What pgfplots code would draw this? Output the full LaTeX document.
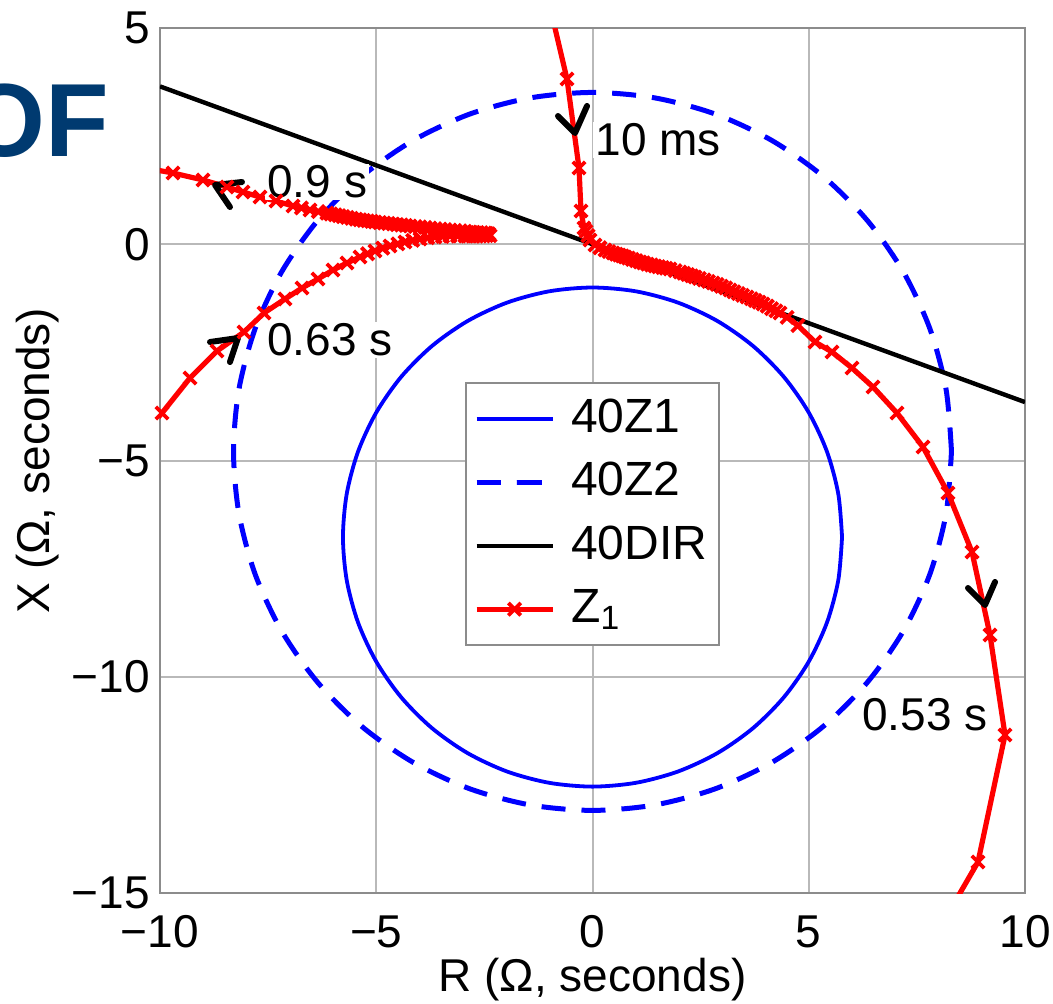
\documentclass[border=0pt]{standalone}
\usepackage{fontspec}
\setmainfont{Liberation Sans}
\usepackage{pgfplots}
\pgfplotsset{compat=1.18}
\definecolor{ofblue}{RGB}{0,58,112}
\definecolor{gridgray}{RGB}{185,185,185}
\definecolor{framegray}{RGB}{140,140,140}
\begin{document}
\fontsize{23}{27}\selectfont
\begin{tikzpicture}
\useasboundingbox (-80pt,-55pt) rectangle (446.5pt,446.5pt);
\node[anchor=base west, inner sep=0pt, font=\fontsize{52}{60}\selectfont\bfseries, text=ofblue] at (-98pt,368pt) {OF};
\begin{axis}[
  scale only axis, width=432.5pt, height=432.5pt,
  xmin=-10, xmax=10, ymin=-15, ymax=5,
  xtick={-10,-5,0,5,10}, xticklabels={−10,−5,0,5,10},
  ytick={-15,-10,-5,0,5}, yticklabels={−15,−10,−5,0,5},
  grid=major, major grid style={gridgray, line width=1pt},
  axis line style={framegray, line width=1pt},
  tick style={draw=none},
  tick label style={font=\fontsize{23}{27}\selectfont, inner sep=3pt},
  xticklabel style={yshift=-8pt},
  yticklabel style={xshift=-2pt},
  xlabel={R (Ω, seconds)}, ylabel={X (Ω, seconds)},
  label style={font=\fontsize{23}{27}\selectfont},
  xlabel style={at={(axis description cs:0.5,-0.1006)}, anchor=center},
  ylabel style={at={(axis description cs:-0.141,0.5)}, anchor=center},
  unbounded coords=jump,
  legend style={at={(0.3526,0.5908)}, anchor=north west, draw=framegray, line width=1pt, fill=white,
    font=\fontsize{24}{28}\selectfont, inner xsep=4pt, inner ysep=6pt, row sep=7.5pt,
    /tikz/every odd column/.append style={column sep=6pt}},
  legend cell align=left,
  legend image code/.code={\draw[mark repeat=2,mark phase=2,#1] plot coordinates {(0pt,0pt) (19pt,0pt) (38pt,0pt)};},
]
% 40Z1
\addplot[blue, line width=1.9pt, smooth] coordinates {
(5.770,-6.770) (5.682,-5.768) (5.422,-4.797) (4.997,-3.885) (4.420,-3.061) (3.709,-2.350)
(2.885,-1.773) (1.973,-1.348) (1.002,-1.088) (0,-1.000) (-1.002,-1.088) (-1.973,-1.348)
(-2.885,-1.773) (-3.709,-2.350) (-4.420,-3.061) (-4.997,-3.885) (-5.422,-4.797) (-5.682,-5.768)
(-5.770,-6.770) (-5.682,-7.772) (-5.422,-8.743) (-4.997,-9.655) (-4.420,-10.479) (-3.709,-11.190)
(-2.885,-11.767) (-1.973,-12.192) (-1.002,-12.452) (0,-12.540) (1.002,-12.452) (1.973,-12.192)
(2.885,-11.767) (3.709,-11.190) (4.420,-10.479) (4.997,-9.655) (5.422,-8.743) (5.682,-7.772)
(5.770,-6.770)};
\addlegendentry{40Z1}
% 40Z2
\addplot[blue, line width=2.5pt, smooth, dash pattern=on 12pt off 8pt] coordinates {
(8.300,-4.790) (8.174,-3.349) (7.800,-1.951) (7.188,-0.640) (6.358,0.545) (5.335,1.568)
(4.150,2.398) (2.839,3.010) (1.441,3.384) (0,3.510) (-1.441,3.384) (-2.839,3.010)
(-4.150,2.398) (-5.335,1.568) (-6.358,0.545) (-7.188,-0.640) (-7.800,-1.951) (-8.174,-3.349)
(-8.300,-4.790) (-8.174,-6.231) (-7.800,-7.629) (-7.188,-8.940) (-6.358,-10.125) (-5.335,-11.148)
(-4.150,-11.978) (-2.839,-12.590) (-1.441,-12.964) (0,-13.090) (1.441,-12.964) (2.839,-12.590)
(4.150,-11.978) (5.335,-11.148) (6.358,-10.125) (7.188,-8.940) (7.800,-7.629) (8.174,-6.231)
(8.300,-4.790)};
\addlegendentry{40Z2}
% 40DIR
\addplot[black, line width=2.2pt] coordinates {(-10,3.65) (10,-3.65)};
\addlegendentry{40DIR}
% Z1 trajectory
\addplot[red, line width=2.6pt, mark=x, mark size=4.4pt, mark options={solid, line width=1.9pt}] coordinates {
(-0.96,5.39) (-0.590,3.821) (-0.312,1.763) (-0.266,0.769) (-0.197,0.376) (-0.15,0.30)
(-0.104,0.20) (-0.058,0.098) (0.058,-0.017) (0.17,-0.08) (0.289,-0.133) (0.38,-0.17) (0.474,-0.202)
(0.55,-0.23) (0.62,-0.25) (0.69,-0.27) (0.751,-0.295) (0.83,-0.32) (0.92,-0.35) (1.01,-0.38) (1.098,-0.410) (1.18,-0.43) (1.27,-0.46) (1.36,-0.48) (1.445,-0.503)
(1.53,-0.52) (1.62,-0.54) (1.70,-0.555) (1.792,-0.572) (1.91,-0.61) (2.023,-0.642) (2.11,-0.67) (2.2,-0.70) (2.29,-0.73) (2.370,-0.757) (2.47,-0.79) (2.58,-0.825)
(2.68,-0.86) (2.786,-0.896) (2.88,-0.93) (2.98,-0.97) (3.08,-1.01) (3.179,-1.058) (3.27,-1.10) (3.37,-1.14) (3.47,-1.18) (3.572,-1.220) (3.67,-1.26) (3.76,-1.30)
(3.85,-1.34) (3.942,-1.382) (4.04,-1.43) (4.14,-1.49) (4.24,-1.54) (4.335,-1.590) (4.50,-1.69) (4.75,-1.88) (5.145,-2.260)
(5.538,-2.491) (6.000,-2.861) (6.486,-3.301) (7.040,-3.902) (7.642,-4.688) (8.220,-5.751)
(8.775,-7.116) (9.191,-9.035) (9.538,-11.347) (8.913,-14.283) (8.15,-15.6)
(nan,nan)
(-10.462,-4.480) (-9.954,-3.902) (-9.306,-3.092) (-8.682,-2.468) (-8.058,-2.029) (-7.595,-1.590)
(-7.110,-1.266) (-6.717,-1.012) (-6.347,-0.803) (-6.0,-0.595) (-5.676,-0.434) (-5.376,-0.295)
(-5.20,-0.22) (-5.029,-0.156) (-4.85,-0.09) (-4.682,-0.040) (-4.50,0.01) (-4.335,0.052)
(-4.16,0.09) (-3.988,0.121) (-3.81,0.15) (-3.642,0.168) (-3.47,0.18) (-3.295,0.191)
(-3.12,0.19) (-2.948,0.191) (-2.85,0.19) (-2.77,0.19) (-2.68,0.19) (-2.601,0.191) (-2.52,0.19) (-2.45,0.20) (-2.370,0.20)
(-2.40,0.24) (-2.44,0.25) (-2.486,0.260) (-2.57,0.265) (-2.66,0.27) (-2.75,0.275) (-2.832,0.283) (-2.95,0.30) (-3.06,0.31) (-3.18,0.32) (-3.295,0.329)
(-3.41,0.34) (-3.52,0.35) (-3.64,0.36) (-3.757,0.376) (-3.87,0.39) (-3.99,0.40) (-4.10,0.41) (-4.220,0.422) (-4.32,0.435) (-4.42,0.445) (-4.52,0.455) (-4.613,0.468)
(-4.72,0.48) (-4.82,0.49) (-4.92,0.50) (-5.029,0.515) (-5.11,0.53) (-5.20,0.54) (-5.29,0.55) (-5.376,0.565) (-5.47,0.58) (-5.57,0.60) (-5.67,0.62) (-5.769,0.64)
(-5.86,0.66) (-5.95,0.68) (-6.05,0.70) (-6.139,0.72) (-6.34,0.755) (-6.532,0.792) (-6.73,0.84) (-6.925,0.884) (-7.318,1.0) (-7.688,1.092)
(-8.081,1.208) (-8.451,1.324) (-9.006,1.486) (-9.699,1.647) (-10.462,1.786)};
\addlegendentry{Z\textsubscript{1}}
% direction arrows
\addplot[black, line width=3pt, line cap=round, line join=round, forget plot] coordinates {(-0.798,2.965) (-0.405,2.572) (-0.127,3.197)};
\addplot[black, line width=3pt, line cap=round, line join=round, forget plot] coordinates {(-8.104,1.439) (-8.728,1.370) (-8.382,0.861)};
\addplot[black, line width=3pt, line cap=round, line join=round, forget plot] coordinates {(-8.844,-2.260) (-8.197,-2.168) (-8.382,-2.723)};
\addplot[black, line width=3pt, line cap=round, line join=round, forget plot] coordinates {(8.682,-7.948) (9.075,-8.341) (9.306,-7.809)};
% time labels
\node[anchor=west, fill=white, inner sep=1pt, font=\fontsize{23}{27}\selectfont] at (axis cs:0.012,2.41) {10 ms};
\node[anchor=west, fill=white, inner sep=1pt, font=\fontsize{23}{27}\selectfont] at (axis cs:-7.572,1.439) {0.9 s};
\node[anchor=west, fill=white, inner sep=1pt, font=\fontsize{23}{27}\selectfont] at (axis cs:-7.572,-2.214) {0.63 s};
\node[anchor=west, fill=white, inner sep=1pt, font=\fontsize{23}{27}\selectfont] at (axis cs:6.185,-10.884) {0.53 s};
\end{axis}
\end{tikzpicture}
\end{document}
